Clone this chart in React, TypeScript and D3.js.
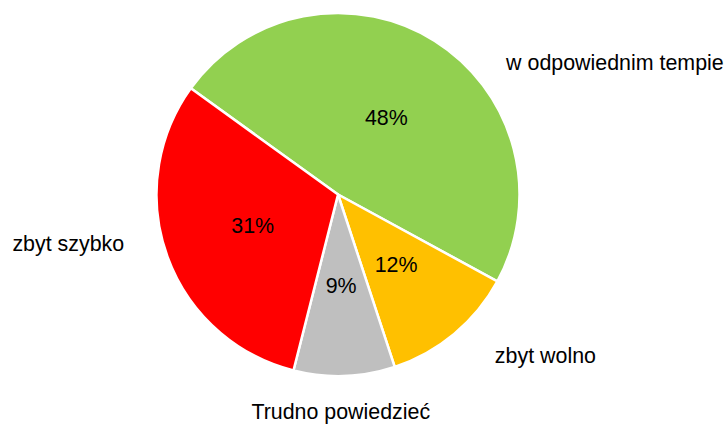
import React, { useRef, useEffect } from "react";
import * as d3 from "d3";

const categories = ["w odpowiednim tempie", "zbyt wolno", "Trudno powiedzieć", "zbyt szybko"];
const shares = [48, 12, 9, 31];
const colors = ["#92D050", "#FFC000", "#BFBFBF", "#FF0000"];

// nudges for the outside category labels (Excel "best fit" look)
const labelNudge = [
  [65, 32],
  [33, 12],
  [-4, 24],
  [-32, -17],
];

const App = () => {
  const svgRef = useRef<SVGSVGElement | null>(null);

  useEffect(() => {
    const svg = d3.select(svgRef.current);
    svg.selectAll("*").remove();

    const cx = 338;
    const cy = 194.5;
    const radius = 181.5;
    const startDeg = -54.2;

    const pie = d3
      .pie<number>()
      .sort(null)
      .value((d) => d)
      .startAngle((startDeg * Math.PI) / 180)
      .endAngle(((startDeg + 360) * Math.PI) / 180);

    const arcs = pie(shares);
    const arc = d3.arc<d3.PieArcDatum<number>>().innerRadius(0).outerRadius(radius);

    const g = svg.append("g").attr("transform", `translate(${cx},${cy})`);

    g.selectAll("path.slice")
      .data(arcs)
      .join("path")
      .attr("class", "slice")
      .attr("d", arc)
      .attr("fill", (d, i) => colors[i])
      .attr("stroke", "#fff")
      .attr("stroke-width", 2.5)
      .attr("stroke-linejoin", "round");

    g.selectAll("text.pct")
      .data(arcs)
      .join("text")
      .attr("class", "pct")
      .attr("transform", (d) => `translate(${arc.centroid(d)})`)
      .attr("text-anchor", "middle")
      .attr("dy", "0.35em")
      .style("font-family", "Liberation Sans, Arial, sans-serif")
      .style("font-size", "21.4px")
      .attr("fill", "#000")
      .text((d) => `${d.data}%`);

    const labelR = radius + 12;
    const anchors = ["start", "start", "middle", "end"];
    g.selectAll("text.cat")
      .data(arcs)
      .join("text")
      .attr("class", "cat")
      .attr("x", (d, i) => labelR * Math.sin((d.startAngle + d.endAngle) / 2) + labelNudge[i][0])
      .attr("y", (d, i) => -labelR * Math.cos((d.startAngle + d.endAngle) / 2) + labelNudge[i][1])
      .attr("text-anchor", (d, i) => anchors[i])
      .attr("dy", "0.35em")
      .style("font-family", "Liberation Sans, Arial, sans-serif")
      .style("font-size", "21.4px")
      .attr("fill", "#000")
      .text((d, i) => categories[i]);
  }, []);

  return (
    <svg
      ref={svgRef}
      width={724}
      height={425}
      style={{ position: "absolute", left: 0, top: 0, background: "#fff" }}
    ></svg>
  );
};

export default App;
